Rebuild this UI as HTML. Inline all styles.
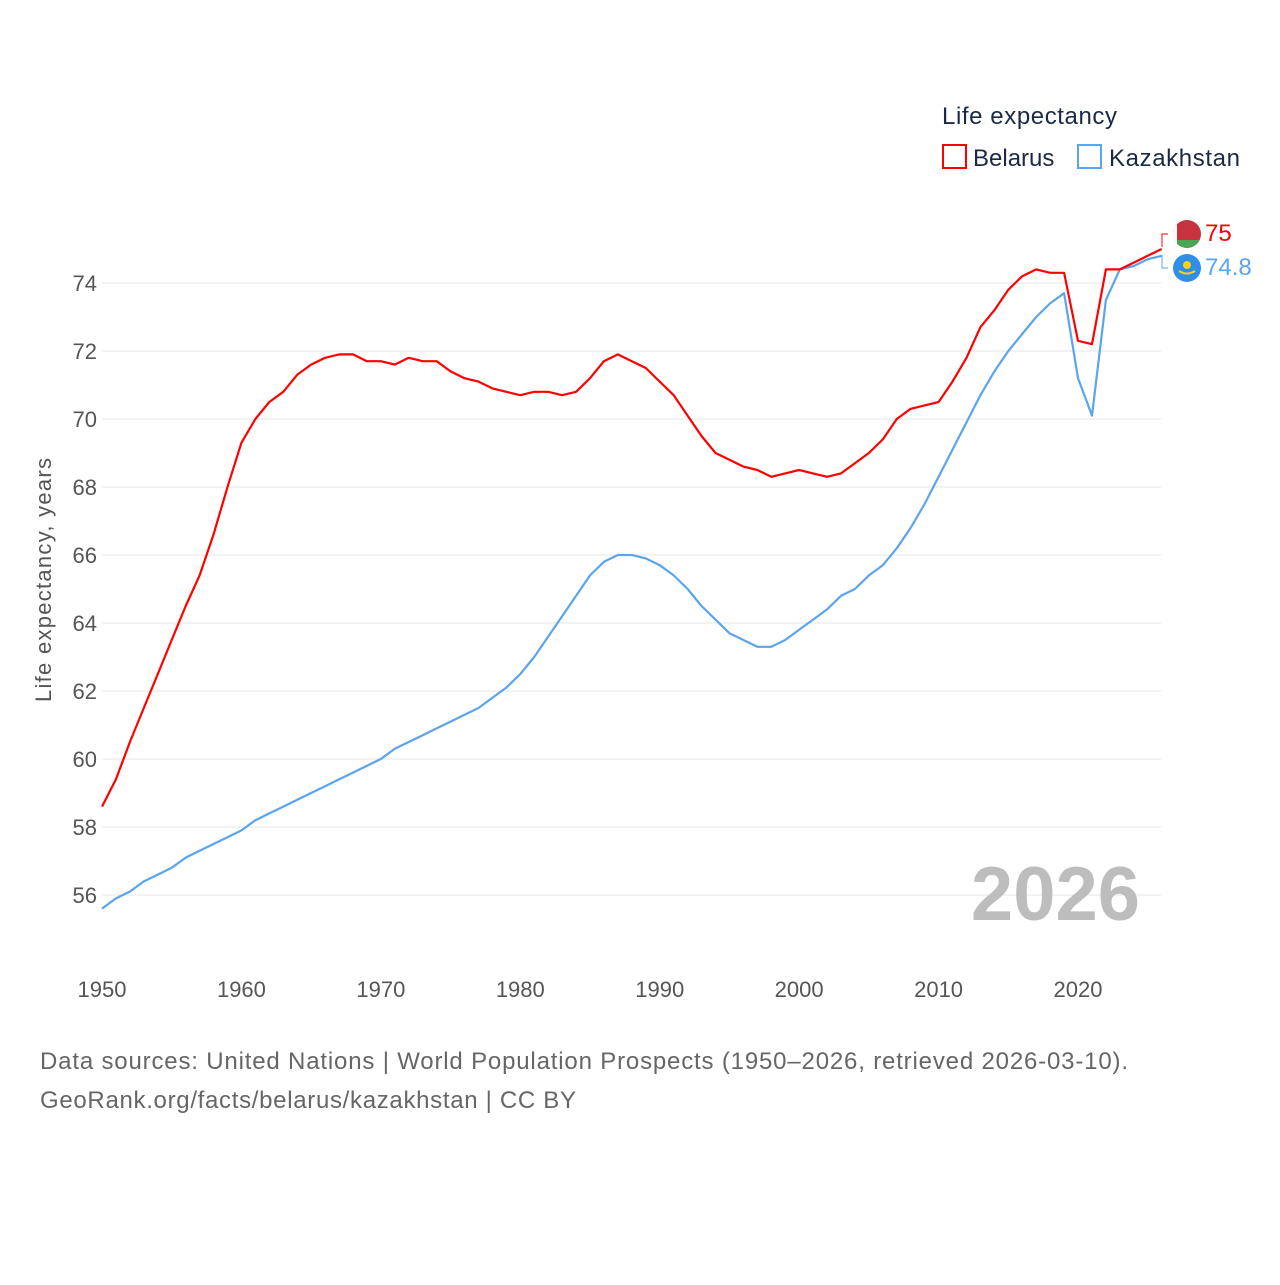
<!DOCTYPE html>
<html><head><meta charset="utf-8"><style>
body{margin:0;background:#fff;font-family:"Liberation Sans",sans-serif}
svg text{font-family:"Liberation Sans",sans-serif}
</style></head><body>
<svg id="c" width="1280" height="1280" xmlns="http://www.w3.org/2000/svg">
<defs><clipPath id="fc"><circle cx="1187" cy="234" r="14"/></clipPath></defs>
<g id="grid"></g>
<g id="yt"></g>
<g id="xt"></g>
<text transform="translate(51,580) rotate(-90)" text-anchor="middle" font-size="22" fill="#555" textLength="244">Life expectancy, years</text>
<text x="1140" y="920" text-anchor="end" font-size="76" font-weight="bold" fill="#bdbdbd">2026</text>
<g id="lines"></g>
<g>
<text x="942" y="124" font-size="24" fill="#1a2a44" textLength="175">Life expectancy</text>
<rect x="943" y="145" width="23" height="23" fill="none" stroke="#f00" stroke-width="2"/>
<text x="973" y="166" font-size="24" fill="#1a2a44">Belarus</text>
<rect x="1078" y="145" width="23" height="23" fill="none" stroke="#5aa5ee" stroke-width="2"/>
<text x="1109" y="166" font-size="24" fill="#1a2a44" textLength="131">Kazakhstan</text>
</g>
<g>
<g clip-path="url(#fc)">
<rect x="1172" y="219" width="30" height="30" fill="#c8313e"/>
<rect x="1172" y="240" width="30" height="10" fill="#4aa657"/>
<rect x="1172" y="219" width="5" height="30" fill="#fff"/>
</g>
<text x="1205" y="241" font-size="24" fill="#f00">75</text>
<circle cx="1187" cy="268" r="14" fill="#2f8fe8"/>
<circle cx="1187" cy="265" r="4" fill="#f5d21e"/>
<path d="M1179 271 Q1187 276 1195 271" stroke="#f5d21e" stroke-width="2" fill="none"/>
<text x="1205" y="275" font-size="24" fill="#5aa5ee">74.8</text>
<path d="M1162 247 V234 H1168" stroke="#f00" fill="none"/>
<path d="M1162 255 V268 H1168" stroke="#5aa5ee" fill="none"/>
</g>
<text x="40" y="1069" font-size="24" fill="#666" textLength="1088">Data sources: United Nations | World Population Prospects (1950–2026, retrieved 2026-03-10).</text>
<text x="40" y="1108" font-size="24" fill="#666" textLength="536">GeoRank.org/facts/belarus/kazakhstan | CC BY</text>
</svg>
<script>
const startYear=1950;
const belarus=[58.6,59.4,60.5,61.5,62.5,63.5,64.5,65.4,66.6,68.0,69.3,70.0,70.5,70.8,71.3,71.6,71.8,71.9,71.9,71.7,71.7,71.6,71.8,71.7,71.7,71.4,71.2,71.1,70.9,70.8,70.7,70.8,70.8,70.7,70.8,71.2,71.7,71.9,71.7,71.5,71.1,70.7,70.1,69.5,69.0,68.8,68.6,68.5,68.3,68.4,68.5,68.4,68.3,68.4,68.7,69.0,69.4,70.0,70.3,70.4,70.5,71.1,71.8,72.7,73.2,73.8,74.2,74.4,74.3,74.3,72.3,72.2,74.4,74.4,74.6,74.8,75.0];
const kazakhstan=[55.6,55.9,56.1,56.4,56.6,56.8,57.1,57.3,57.5,57.7,57.9,58.2,58.4,58.6,58.8,59.0,59.2,59.4,59.6,59.8,60.0,60.3,60.5,60.7,60.9,61.1,61.3,61.5,61.8,62.1,62.5,63.0,63.6,64.2,64.8,65.4,65.8,66.0,66.0,65.9,65.7,65.4,65.0,64.5,64.1,63.7,63.5,63.3,63.3,63.5,63.8,64.1,64.4,64.8,65.0,65.4,65.7,66.2,66.8,67.5,68.3,69.1,69.9,70.7,71.4,72.0,72.5,73.0,73.4,73.7,71.2,70.1,73.5,74.4,74.5,74.7,74.8];
const yTicks=[56,58,60,62,64,66,68,70,72,74];
const xTicks=[1950,1960,1970,1980,1990,2000,2010,2020];
const NS="http://www.w3.org/2000/svg";
const x=y=>102+(y-1950)*13.943;
const yS=v=>283+(74-v)*34;
function mk(t,a,p){const e=document.createElementNS(NS,t);for(const k in a)e.setAttribute(k,a[k]);p.appendChild(e);return e;}
const grid=document.getElementById('grid'),yt=document.getElementById('yt'),xt=document.getElementById('xt'),lines=document.getElementById('lines');
yTicks.forEach(v=>{
 const l=mk('line',{x1:102,x2:1161,y1:yS(v),y2:yS(v),stroke:'#e6e6e6','stroke-width':1},grid);
 
 
 const t=mk('text',{x:97,y:yS(v)+8,'text-anchor':'end','font-size':22,fill:'#555'},yt);
 t.textContent=v;
 
 
});
xTicks.forEach(v=>{
 const t=mk('text',{x:x(v),y:997,'text-anchor':'middle','font-size':22,fill:'#555'},xt);
 t.textContent=v;
 
 
});
function line(data,color,name){
 const d=data.map((v,i)=>(i?'L':'M')+x(startYear+i).toFixed(1)+' '+yS(v).toFixed(1)).join(' ');
 const p=mk('path',{d:d,fill:'none',stroke:color,'stroke-width':2.2,'stroke-linejoin':'round'},lines);
 
 
}
line(kazakhstan,'#5aa5ee','kazakhstan-line');
line(belarus,'#f00','belarus-line');
</script>
</body></html>
